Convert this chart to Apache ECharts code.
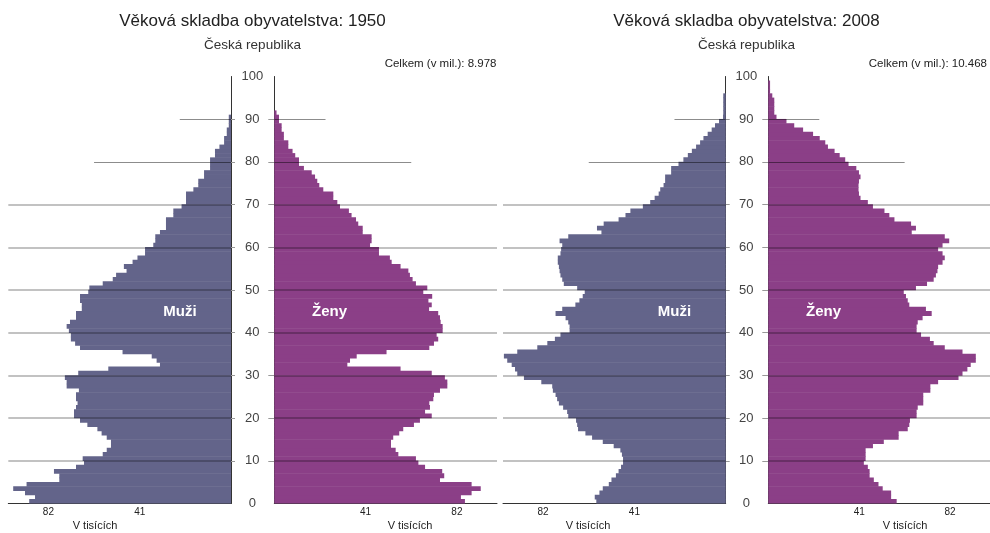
<!DOCTYPE html>
<html><head><meta charset="utf-8">
<script src="https://cdn.jsdelivr.net/npm/echarts@6/dist/echarts.min.js"></script>
<style>html,body{margin:0;padding:0;background:#fff}#c{width:990px;height:533px}</style>
</head><body><div id="c"></div>
<script>
// ---- data (thousands of persons, single years of age 0..99) ----
const ages = Array.from({length: 100}, (_, i) => String(i));

const men1950 = [90.6, 88, 92.5, 97.8, 91.8, 77.1, 77.1, 79.5, 69.6, 66,
  66.6, 57.6, 55.8, 53.9, 53.9, 55.8, 58.1, 60, 64.5, 67.8,
  70.5, 70.5, 69.6, 68.9, 69.6, 69.6, 68.3, 73.8, 73.8, 74.6,
  68.6, 55.1, 31.9, 33.4, 35.6, 48.7, 67.8, 70, 71.9, 71.9,
  72.8, 73.8, 72.3, 69.6, 69.6, 67, 67, 67.8, 67.8, 64.1,
  63.6, 57.6, 53.1, 51.6, 46.9, 48.1, 44.2, 42, 38.6, 38.6,
  34.9, 34, 34, 31.9, 29.2, 29.2, 29.2, 25.9, 25.9, 22.2,
  20.2, 20.2, 20.2, 16.9, 14.7, 14.7, 12.1, 12.1, 9.4, 9.4,
  9.4, 7.2, 7.2, 5.2, 3.1, 3.1, 1.9, 1.9, 1.0, 1.0,
  1.0, 0, 0, 0, 0, 0, 0, 0, 0, 0];

const women1950 = [85.6, 83.8, 88.6, 92.7, 88.6, 74.4, 76.3, 75.4, 67.7, 64.7,
  63.6, 55.7, 54.5, 52.4, 52.4, 53.4, 56.1, 57.9, 62.7, 65.4,
  70.7, 67.7, 69.9, 69.6, 71.4, 71.7, 74.4, 77.7, 77.7, 76.6,
  70.7, 56.7, 32.8, 34, 37, 50.4, 69.6, 71.7, 73.6, 72.9,
  75.6, 75.6, 74.7, 74.4, 73.6, 69.5, 70.7, 69.2, 70.9, 66.9,
  68.7, 63.6, 62.1, 60.9, 60.2, 56.7, 52.7, 51.9, 47, 47,
  43, 43.7, 43.7, 39.7, 39.7, 37.7, 36.7, 34.7, 33.5, 29.5,
  28.3, 26.5, 26.5, 22, 20.2, 19.3, 18.3, 16.8, 13.3, 11.1,
  11.1, 9.4, 8.2, 6.3, 6.3, 4.3, 4.3, 3.3, 3.3, 2.1,
  2.1, 1.0, 0, 0, 0, 0, 0, 0, 0, 0];

const men2008 = [58.1, 58.8, 56.7, 55.2, 52.5, 51.3, 49.3, 48.1, 47, 46.1,
  46.1, 46.6, 47.3, 50.3, 55.2, 60, 63, 66.3, 66.7, 67.2,
  70.7, 71.2, 73, 74.9, 75.7, 76.4, 77.6, 77.9, 82.8, 90.6,
  93.6, 94.6, 96.1, 98.1, 99.6, 93.6, 84.6, 80.1, 76.7, 74.2,
  70.1, 70.1, 70.7, 71.9, 76.4, 73.4, 67.5, 65.7, 64.2, 63.3,
  66.7, 72.7, 73.4, 74.2, 74.6, 74.9, 75.4, 75.4, 74.2, 73.9,
  73.4, 74.6, 70.7, 55.8, 57.8, 54.8, 48.1, 45, 42.8, 37.2,
  33.9, 31.9, 30.1, 29.4, 27.9, 27.2, 27.2, 24.5, 24.5, 21.2,
  19, 17, 15.2, 13.3, 11.5, 10, 8.1, 6.3, 4.8, 3.0,
  1.2, 1.1, 1.1, 1.1, 1.1, 1.1, 0, 0, 0, 0];

const women2008 = [57.9, 55.4, 55.4, 51.6, 49.7, 47.6, 45.7, 45.7, 44.9, 43.1,
  43.9, 43.9, 43.9, 47.2, 52.1, 58.8, 58.8, 62.9, 63.6, 63.9,
  66.9, 66.9, 67.4, 69.9, 69.9, 69.9, 73.1, 73.1, 76.6, 85.8,
  87.6, 89.8, 91.3, 93.6, 93.6, 87.6, 79.6, 74.6, 72.9, 68.9,
  66.9, 66.9, 67.4, 69.6, 73.7, 71.1, 63.6, 62.9, 62.1, 61.1,
  66.6, 71.6, 74.6, 75.6, 76.3, 76.6, 78.6, 79.6, 78.6, 76.6,
  78.6, 81.6, 79.6, 64.7, 66.6, 64.4, 56.9, 54.6, 52.4, 47.2,
  44.9, 41.6, 40.9, 40.7, 40.7, 40.9, 41.6, 40.9, 39.7, 36.2,
  34.7, 32.2, 29.9, 26.9, 25.7, 23.2, 20.2, 15.7, 11.7, 8.2,
  3.7, 2.7, 2.7, 2.7, 2.7, 1.8, 0.8, 0.8, 0.8, 0];

const ageTicks = [10, 20, 30, 40, 50, 60, 70, 80, 90];
const fullGridAges = [10, 20, 30, 40, 50, 60, 70];
const shortGridLines = [[80, 61.5], [90, 23]];   // [age, length in thousands]
const xTickValues = [41, 82];
const titles = ['Věková skladba obyvatelstva: 1950', 'Věková skladba obyvatelstva: 2008'];
const subtitle = 'Česká republika';
const totals = ['Celkem (v mil.): 8.978', 'Celkem (v mil.): 10.468'];
const sexLabels = ['Muži', 'Ženy'];
const unitLabel = 'V tisících';

// ---- styling / layout ----
const MEN = '#63648a', WOMEN = '#8b3f87';
const FONT = '"Liberation Sans", Arial, sans-serif';
const TOP = 76.5, H = 427, W = 222.7;
const panels = [
  {left: 8.3,   data: men1950,   color: MEN,   men: true},
  {left: 274.3, data: women1950, color: WOMEN, men: false},
  {left: 503,   data: men2008,   color: MEN,   men: true},
  {left: 768.3, data: women2008, color: WOMEN, men: false}
];

const grid = [], xAxis = [], yAxis = [], series = [];
panels.forEach((p, k) => {
  grid.push({left: p.left, top: TOP, width: W, height: H, containLabel: false});
  xAxis.push({
    type: 'value', gridIndex: k, min: 0, max: 100, interval: 41, inverse: p.men,
    axisLine: {show: true, lineStyle: {color: '#333', width: 1}},
    axisTick: {show: false}, splitLine: {show: false},
    axisLabel: {
      customValues: xTickValues, margin: 4, fontSize: 10, color: '#222', fontFamily: FONT,
      formatter: v => (xTickValues.indexOf(v) >= 0 ? String(v) : '')
    }
  });
  yAxis.push({type: 'category', gridIndex: k, data: ages, boundaryGap: true, show: false});
  yAxis.push({
    type: 'value', gridIndex: k, min: 0, max: 100, interval: 10,
    position: p.men ? 'right' : 'left',
    axisLine: {show: true, onZero: false, lineStyle: {color: '#333', width: 1}},
    axisTick: {show: true, customValues: ageTicks, length: p.men ? 4 : 6, lineStyle: {color: '#999'}},
    splitLine: {show: false},
    axisLabel: {show: !p.men, align: 'center', margin: 22, fontSize: 13, color: '#444', fontFamily: FONT}
  });
  series.push({
    type: 'bar', xAxisIndex: k, yAxisIndex: 2 * k, data: p.data,
    barWidth: '112%', barGap: '-100%',
    itemStyle: {color: p.color, borderWidth: 0},
    silent: true, animation: false, z: 2
  });
  const lineData = fullGridAges.map(a => ({coords: [[0, a], [100, a]], lineStyle: {color: 'rgba(0,0,0,0.24)', width: 2}}))
    .concat(shortGridLines.map(s => ({coords: [[0, s[0]], [s[1], s[0]]], lineStyle: {color: 'rgba(0,0,0,0.45)', width: 1}})));
  series.push({
    type: 'lines', coordinateSystem: 'cartesian2d', xAxisIndex: k, yAxisIndex: 2 * k + 1,
    polyline: false, data: lineData, lineStyle: {opacity: 1}, silent: true, animation: false, z: 5
  });
});

function txt(x, y, text, size, opts) {
  opts = opts || {};
  return {type: 'text', x: x, y: y, silent: true, z: 100, style: {
    text: text, x: 0, y: 0, textAlign: opts.align || 'center', textVerticalAlign: 'middle',
    align: opts.align || 'center', verticalAlign: 'middle',
    fontSize: size, fontFamily: FONT, fontWeight: opts.bold ? 'bold' : 'normal', fill: opts.fill || '#222'
  }};
}

const graphic = [
  txt(252.5, 21.5, titles[0], 17),
  txt(746.5, 21.5, titles[1], 17),
  txt(252.5, 45.5, subtitle, 13.5, {fill: '#333'}),
  txt(746.5, 45.5, subtitle, 13.5, {fill: '#333'}),
  txt(496.5, 63.5, totals[0], 11.5, {align: 'right'}),
  txt(987, 63.5, totals[1], 11.5, {align: 'right'}),
  txt(180, 311.5, sexLabels[0], 15, {bold: true, fill: '#fff'}),
  txt(329.5, 311.5, sexLabels[1], 15, {bold: true, fill: '#fff'}),
  txt(674.5, 311.5, sexLabels[0], 15, {bold: true, fill: '#fff'}),
  txt(823.5, 311.5, sexLabels[1], 15, {bold: true, fill: '#fff'}),
  txt(95, 526, unitLabel, 11),
  txt(410, 526, unitLabel, 11),
  txt(588, 526, unitLabel, 11),
  txt(905, 526, unitLabel, 11)
];

const chart = echarts.init(document.getElementById('c'), null, {renderer: 'canvas'});
chart.setOption({animation: false, backgroundColor: '#fff', grid, xAxis, yAxis, series, graphic});
</script></body></html>
